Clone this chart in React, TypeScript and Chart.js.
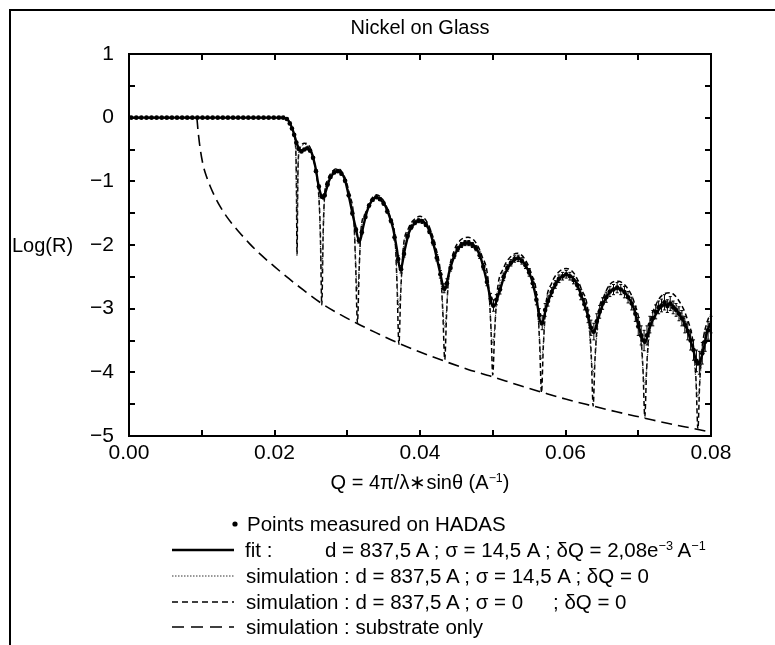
import React, { useEffect, useRef } from "react";
import { Chart, registerables } from "chart.js";

Chart.register(...registerables);

const FONT = "'Liberation Sans', Arial, Helvetica, sans-serif";

// ---- Measured points (HADAS) ----
const plateauQ = [
  0.0003, 0.001, 0.0017, 0.0024, 0.0031, 0.0038, 0.0045, 0.0052, 0.0059, 0.0066,
  0.0073, 0.008, 0.0087, 0.0094, 0.0101, 0.0108, 0.0115, 0.0122, 0.0129, 0.0136,
  0.0143, 0.015, 0.0157, 0.0164, 0.0171, 0.0178, 0.0185, 0.0192, 0.0199, 0.0206,
  0.0212,
];
const plateauLogR = [
  0, 0, 0, 0, 0, 0, 0, 0, 0, 0,
  0, 0, 0, 0, 0, 0, 0, 0, 0, 0,
  0, 0, 0, 0, 0, 0, 0, 0, 0, 0,
  0,
];
const measQ = [
  0.0217, 0.0221, 0.0224, 0.0227, 0.023, 0.0233, 0.0237, 0.0241, 0.0245, 0.0249,
  0.0253, 0.0257, 0.0261, 0.0265, 0.0269, 0.0273, 0.0277, 0.0282, 0.0287, 0.0292,
  0.0297, 0.0302, 0.0307, 0.0312, 0.0316, 0.032, 0.0325, 0.033, 0.0335, 0.034,
  0.0345, 0.035, 0.0355, 0.036, 0.0365, 0.037, 0.0374, 0.0378, 0.0383, 0.0388,
  0.0393, 0.0398, 0.0403, 0.0408, 0.0413, 0.0418, 0.0423, 0.0428, 0.0433, 0.0437,
  0.0442, 0.0447, 0.0452, 0.0457, 0.0462, 0.0467, 0.0472, 0.0477, 0.0482, 0.0487,
  0.0492, 0.0497, 0.0501, 0.0505, 0.051, 0.0515, 0.052, 0.0525, 0.053, 0.0535,
  0.054, 0.0545, 0.055, 0.0555, 0.056, 0.0564, 0.0568, 0.0572, 0.0576, 0.0581,
  0.0586, 0.0591, 0.0596, 0.0601, 0.0606, 0.0611, 0.0616, 0.0621, 0.0626, 0.0631,
  0.0635, 0.0639, 0.0643, 0.0647, 0.0651, 0.0656, 0.0661, 0.0666, 0.0671, 0.0676,
  0.0681, 0.0686, 0.0691, 0.0696, 0.07, 0.0704, 0.0708, 0.0712, 0.0716, 0.072,
  0.0724, 0.0728, 0.0732, 0.0736, 0.074, 0.0744, 0.0748, 0.0752, 0.0756, 0.076,
  0.0764, 0.0768, 0.0772, 0.0776, 0.078, 0.0784, 0.0788, 0.0792, 0.0796, 0.08,
];
const measLogR = [
  -0.02, -0.09, -0.17, -0.27, -0.39, -0.49, -0.53, -0.5, -0.48, -0.52,
  -0.63, -0.84, -1.08, -1.24, -1.22, -1.05, -0.93, -0.86, -0.84, -0.88,
  -0.99, -1.22, -1.5, -1.76, -1.93, -1.8, -1.56, -1.38, -1.29, -1.25,
  -1.28, -1.35, -1.47, -1.62, -1.88, -2.22, -2.38, -2.14, -1.86, -1.72,
  -1.65, -1.62, -1.63, -1.68, -1.79, -1.96, -2.2, -2.46, -2.68, -2.6,
  -2.36, -2.17, -2.06, -2.0, -1.97, -1.97, -2.0, -2.05, -2.16, -2.34,
  -2.58, -2.84, -2.95, -2.86, -2.7, -2.5, -2.36, -2.28, -2.22, -2.21,
  -2.25, -2.32, -2.43, -2.6, -2.86, -3.1, -3.22, -3.02, -2.88, -2.74,
  -2.62, -2.53, -2.49, -2.46, -2.49, -2.55, -2.63, -2.78, -2.93, -3.12,
  -3.3, -3.36, -3.2, -3.05, -2.92, -2.82, -2.73, -2.7, -2.67, -2.7,
  -2.74, -2.82, -2.92, -3.08, -3.28, -3.42, -3.5, -3.42, -3.25, -3.15,
  -3.05, -2.98, -2.95, -2.9, -2.96, -2.92, -2.98, -3.02, -3.08, -3.15,
  -3.25, -3.35, -3.5, -3.65, -3.82, -3.85, -3.7, -3.52, -3.34, -3.25,
];
const measErr = [
  0.01, 0.01, 0.01, 0.01, 0.01, 0.01, 0.01, 0.01, 0.01, 0.01,
  0.02, 0.02, 0.02, 0.02, 0.02, 0.02, 0.02, 0.02, 0.02, 0.02,
  0.02, 0.02, 0.03, 0.03, 0.04, 0.03, 0.02, 0.02, 0.02, 0.02,
  0.02, 0.02, 0.03, 0.03, 0.04, 0.05, 0.06, 0.05, 0.03, 0.03,
  0.03, 0.03, 0.03, 0.03, 0.03, 0.04, 0.05, 0.06, 0.07, 0.07,
  0.05, 0.04, 0.04, 0.04, 0.04, 0.04, 0.04, 0.04, 0.05, 0.05,
  0.06, 0.08, 0.09, 0.08, 0.07, 0.06, 0.05, 0.05, 0.05, 0.05,
  0.05, 0.05, 0.06, 0.07, 0.08, 0.1, 0.11, 0.1, 0.08, 0.07,
  0.06, 0.06, 0.06, 0.06, 0.06, 0.06, 0.07, 0.08, 0.09, 0.1,
  0.12, 0.13, 0.12, 0.1, 0.09, 0.08, 0.08, 0.08, 0.08, 0.08,
  0.09, 0.09, 0.1, 0.12, 0.14, 0.15, 0.16, 0.15, 0.13, 0.12,
  0.11, 0.1, 0.1, 0.12, 0.1, 0.11, 0.1, 0.1, 0.11, 0.12,
  0.13, 0.14, 0.15, 0.16, 0.17, 0.18, 0.17, 0.15, 0.14, 0.13,
];

// ---- Fit: d = 837.5 A, sigma = 14.5 A, dQ = 2.08e-3 ----
const fitQ = [
  0, 0.02, 0.0212, 0.0217, 0.0221, 0.0224, 0.0227, 0.023, 0.0233, 0.0236,
  0.024, 0.0244, 0.0248, 0.0251, 0.0254, 0.0257, 0.026, 0.0263, 0.0267, 0.0271,
  0.0275, 0.028, 0.0286, 0.0291, 0.0296, 0.0301, 0.0306, 0.0311, 0.0317, 0.0322,
  0.0327, 0.0333, 0.034, 0.0346, 0.0352, 0.0357, 0.0363, 0.0368, 0.0373, 0.0379,
  0.0385, 0.0392, 0.04, 0.0408, 0.0415, 0.0421, 0.0427, 0.0434, 0.044, 0.0447,
  0.0455, 0.0466, 0.0476, 0.0484, 0.0492, 0.0501, 0.0509, 0.0517, 0.0526, 0.0535,
  0.0545, 0.0553, 0.056, 0.0567, 0.0574, 0.0582, 0.0591, 0.0602, 0.0613, 0.0622,
  0.063, 0.0638, 0.0645, 0.0652, 0.0661, 0.0672, 0.0684, 0.0694, 0.0701, 0.0709,
  0.0716, 0.0725, 0.0734, 0.0744, 0.0756, 0.0767, 0.0775, 0.0782, 0.0789, 0.0795,
  0.08,
];
const fitLogR = [
  0, 0, 0, -0.02, -0.08, -0.16, -0.26, -0.38, -0.47, -0.52,
  -0.51, -0.49, -0.5, -0.55, -0.67, -0.82, -1.03, -1.18, -1.27, -1.14,
  -0.99, -0.89, -0.84, -0.86, -0.95, -1.17, -1.44, -1.7, -1.95, -1.71,
  -1.48, -1.32, -1.25, -1.29, -1.38, -1.52, -1.74, -2.05, -2.4, -2.08,
  -1.8, -1.67, -1.61, -1.67, -1.84, -2.1, -2.4, -2.71, -2.43, -2.18,
  -2.02, -1.97, -2.03, -2.22, -2.58, -2.97, -2.74, -2.45, -2.27, -2.21,
  -2.32, -2.52, -2.85, -3.25, -2.96, -2.72, -2.54, -2.47, -2.56, -2.8,
  -3.08, -3.38, -3.15, -2.91, -2.74, -2.68, -2.78, -3.0, -3.3, -3.54,
  -3.28, -3.07, -2.95, -2.93, -3.08, -3.32, -3.62, -3.88, -3.68, -3.35,
  -3.22,
];

// ---- simulation : d = 837.5 A ; sigma = 14.5 A ; dQ = 0  (dotted) ----
const roughQ = [
  0, 0.0212, 0.0217, 0.0221, 0.0224, 0.0227, 0.0229, 0.0231, 0.0233, 0.0236,
  0.0241, 0.0245, 0.0249, 0.0253, 0.0257, 0.0261, 0.0265, 0.0269, 0.0273, 0.0279,
  0.0286, 0.0292, 0.0298, 0.0303, 0.0309, 0.0314, 0.0319, 0.0325, 0.0332, 0.034,
  0.0347, 0.0353, 0.0359, 0.0366, 0.0371, 0.0377, 0.0384, 0.0392, 0.04, 0.0408,
  0.0415, 0.0422, 0.0429, 0.0434, 0.0439, 0.0447, 0.0455, 0.0466, 0.0476, 0.0485,
  0.0494, 0.05, 0.0506, 0.0515, 0.0525, 0.0534, 0.0544, 0.0553, 0.0561, 0.0567,
  0.0573, 0.0581, 0.0591, 0.0601, 0.0612, 0.0622, 0.0631, 0.0638, 0.0645, 0.0653,
  0.0661, 0.0672, 0.0684, 0.0695, 0.0703, 0.0709, 0.0715, 0.0724, 0.0734, 0.0744,
  0.0756, 0.0767, 0.0776, 0.0782, 0.0788, 0.0795, 0.08,
];
const roughLogR = [
  0, 0, -0.02, -0.08, -0.16, -0.28, -0.45, -1.6, -0.58, -0.46,
  -0.42, -0.43, -0.49, -0.64, -0.86, -1.25, -2.4, -1.22, -1.0, -0.87,
  -0.83, -0.86, -0.99, -1.22, -1.62, -2.7, -1.78, -1.52, -1.32, -1.24,
  -1.28, -1.39, -1.58, -1.98, -3.0, -2.08, -1.77, -1.63, -1.59, -1.65,
  -1.82, -2.1, -2.6, -3.3, -2.6, -2.14, -1.99, -1.95, -2.02, -2.24,
  -2.66, -3.55, -2.82, -2.44, -2.26, -2.21, -2.3, -2.53, -2.93, -3.8,
  -3.02, -2.69, -2.51, -2.46, -2.55, -2.8, -3.15, -4.0, -3.2, -2.9,
  -2.72, -2.67, -2.77, -3.03, -3.45, -4.2, -3.45, -3.05, -2.9, -2.88,
  -3.0, -3.27, -3.7, -4.4, -3.7, -3.3, -3.18,
];

// ---- simulation : d = 837.5 A ; sigma = 0 ; dQ = 0  (short dashes) ----
const sharpQ = [
  0, 0.0212, 0.0217, 0.0221, 0.0224, 0.0227, 0.0229, 0.023, 0.0231, 0.0232,
  0.0233, 0.0236, 0.0241, 0.0245, 0.0249, 0.0253, 0.0257, 0.0261, 0.0263, 0.0265,
  0.0267, 0.0269, 0.0273, 0.0279, 0.0286, 0.0292, 0.0298, 0.0303, 0.0309, 0.03115,
  0.0314, 0.03165, 0.0319, 0.0325, 0.0332, 0.034, 0.0347, 0.0353, 0.0359, 0.0366,
  0.03685, 0.0371, 0.03735, 0.0377, 0.0384, 0.0392, 0.04, 0.0408, 0.0415, 0.0422,
  0.0429, 0.04315, 0.0434, 0.04365, 0.0439, 0.0447, 0.0455, 0.0466, 0.0476, 0.0485,
  0.0494, 0.04975, 0.05, 0.05025, 0.0506, 0.0515, 0.0525, 0.0534, 0.0544, 0.0553,
  0.0561, 0.05645, 0.0567, 0.05695, 0.0573, 0.0581, 0.0591, 0.0601, 0.0612, 0.0622,
  0.0631, 0.06355, 0.0638, 0.06405, 0.0645, 0.0653, 0.0661, 0.0672, 0.0684, 0.0695,
  0.0703, 0.07065, 0.0709, 0.07115, 0.0715, 0.0724, 0.0734, 0.0744, 0.0756, 0.0767,
  0.0776, 0.07795, 0.0782, 0.07845, 0.0788, 0.0795, 0.08,
];
const sharpLogR = [
  0, 0, -0.02, -0.08, -0.16, -0.28, -0.45, -0.9, -2.16, -1.0,
  -0.6, -0.45, -0.4, -0.41, -0.47, -0.62, -0.85, -1.25, -1.8, -2.94,
  -1.75, -1.2, -0.98, -0.85, -0.8, -0.84, -0.98, -1.2, -1.6, -2.3,
  -3.22, -2.35, -1.75, -1.5, -1.3, -1.21, -1.26, -1.37, -1.56, -1.95,
  -2.65, -3.56, -2.75, -2.05, -1.74, -1.6, -1.55, -1.61, -1.78, -2.05,
  -2.55, -3.1, -3.8, -3.1, -2.55, -2.09, -1.93, -1.88, -1.95, -2.17,
  -2.6, -3.3, -4.04, -3.4, -2.75, -2.36, -2.18, -2.13, -2.22, -2.45,
  -2.85, -3.55, -4.32, -3.6, -2.95, -2.6, -2.42, -2.37, -2.45, -2.7,
  -3.05, -3.75, -4.53, -3.8, -3.1, -2.8, -2.62, -2.57, -2.66, -2.92,
  -3.35, -3.95, -4.7, -3.95, -3.35, -2.95, -2.78, -2.75, -2.88, -3.15,
  -3.6, -4.15, -4.89, -4.15, -3.6, -3.2, -3.08,
];

// ---- Substrate only (long dashes) ----
const subQ = [
  0, 0.0093, 0.0095, 0.0098, 0.0102, 0.0107, 0.0112, 0.0118, 0.0125, 0.0134,
  0.0142, 0.015, 0.0165, 0.018, 0.02, 0.022, 0.024, 0.0265, 0.029, 0.0313,
  0.034, 0.0372, 0.04, 0.0435, 0.0465, 0.05, 0.0535, 0.0567, 0.06, 0.0638,
  0.067, 0.0709, 0.074, 0.0779, 0.08,
];
const subLogR = [
  0, 0, -0.22, -0.5, -0.75, -0.94, -1.09, -1.24, -1.39, -1.55,
  -1.67, -1.78, -1.97, -2.14, -2.34, -2.53, -2.71, -2.92, -3.09, -3.23,
  -3.38, -3.55, -3.68, -3.83, -3.95, -4.07, -4.2, -4.31, -4.42, -4.53,
  -4.62, -4.72, -4.8, -4.89, -4.94,
];

const X_MIN = 0;
const X_MAX = 0.08;
const X_STEP = 0.01;
const Y_MIN = -5;
const Y_MAX = 1;
const Y_STEP = 0.5;

const toXY = (xs: number[], ys: number[]) => xs.map((x, i) => ({ x, y: ys[i] }));

const fmtY = (v: number) => (v < 0 ? "\u2212" + Math.abs(v) : String(v));

export default function App() {
  const ref = useRef<HTMLCanvasElement | null>(null);

  useEffect(() => {
    const canvas = ref.current;
    if (!canvas) return;

    const allQ = plateauQ.concat(measQ);
    const allR = plateauLogR.concat(measLogR);
    const allE = plateauLogR.map(() => 0).concat(measErr);

    const framePlugin = {
      id: "frameTicks",
      afterDatasetsDraw(chart: any) {
        const { ctx, scales } = chart;
        const xs = scales.x;
        const ys = scales.y;
        ctx.save();
        ctx.strokeStyle = "#000";
        ctx.lineWidth = 1;
        ctx.beginPath();
        for (let i = 0; i < allQ.length; i++) {
          const e = allE[i];
          if (!e) continue;
          const px = xs.getPixelForValue(allQ[i]);
          const p1 = ys.getPixelForValue(allR[i] + e);
          const p2 = ys.getPixelForValue(allR[i] - e);
          ctx.moveTo(px, p1);
          ctx.lineTo(px, p2);
          ctx.moveTo(px - 1.5, p1);
          ctx.lineTo(px + 1.5, p1);
          ctx.moveTo(px - 1.5, p2);
          ctx.lineTo(px + 1.5, p2);
        }
        ctx.stroke();
        ctx.restore();
      },
      afterDraw(chart: any) {
        const { ctx, chartArea, scales } = chart;
        const { left, right, top, bottom } = chartArea;
        ctx.save();
        ctx.strokeStyle = "#000";
        ctx.lineWidth = 2;
        ctx.strokeRect(left, top, right - left, bottom - top);
        const tl = 6;
        ctx.beginPath();
        scales.x.ticks.forEach((t: any) => {
          const px = Math.round(scales.x.getPixelForValue(t.value));
          ctx.moveTo(px, bottom);
          ctx.lineTo(px, bottom - tl);
          ctx.moveTo(px, top);
          ctx.lineTo(px, top + tl);
        });
        scales.y.ticks.forEach((t: any) => {
          const py = Math.round(scales.y.getPixelForValue(t.value));
          ctx.moveTo(left, py);
          ctx.lineTo(left + tl, py);
          ctx.moveTo(right, py);
          ctx.lineTo(right - tl, py);
        });
        ctx.stroke();
        ctx.restore();
      },
    };

    const chart = new Chart(canvas, {
      type: "scatter",
      data: {
        datasets: [
          {
            label: "Points measured on HADAS",
            data: toXY(allQ, allR),
            showLine: false,
            pointRadius: 2.3,
            pointBackgroundColor: "#000",
            pointBorderColor: "#000",
            pointBorderWidth: 0,
            order: 0,
          },
          {
            label: "fit",
            data: toXY(fitQ, fitLogR),
            showLine: true,
            borderColor: "#000",
            borderWidth: 2.4,
            pointRadius: 0,
            cubicInterpolationMode: "monotone",
            order: 1,
          },
          {
            label: "simulation sigma 14.5 dQ 0",
            data: toXY(roughQ, roughLogR),
            showLine: true,
            borderColor: "#333",
            borderWidth: 1,
            borderDash: [1.5, 1.5],
            pointRadius: 0,
            cubicInterpolationMode: "monotone",
            order: 2,
          },
          {
            label: "simulation sigma 0 dQ 0",
            data: toXY(sharpQ, sharpLogR),
            showLine: true,
            borderColor: "#000",
            borderWidth: 1.5,
            borderDash: [5, 3],
            pointRadius: 0,
            cubicInterpolationMode: "monotone",
            order: 3,
          },
          {
            label: "substrate only",
            data: toXY(subQ, subLogR),
            showLine: true,
            borderColor: "#000",
            borderWidth: 1.6,
            borderDash: [11, 6],
            pointRadius: 0,
            cubicInterpolationMode: "monotone",
            order: 4,
          },
        ],
      } as any,
      options: {
        animation: false,
        responsive: false,
        maintainAspectRatio: false,
        devicePixelRatio: 1,
        layout: { padding: { left: 0, top: 54, right: 64, bottom: 179 } },
        plugins: {
          legend: { display: false },
          tooltip: { enabled: false },
          title: { display: false },
        },
        scales: {
          x: {
            type: "linear",
            min: X_MIN,
            max: X_MAX,
            grid: { display: false, drawTicks: false },
            border: { display: false },
            ticks: {
              stepSize: X_STEP,
              autoSkip: false,
              maxRotation: 0,
              padding: 5,
              color: "#000",
              font: { family: FONT, size: 21 },
              callback: (v: any) =>
                Math.round(Number(v) * 100) % 2 === 0 ? Number(v).toFixed(2) : "",
            },
            afterFit: (s: any) => {
              s.height = 30;
            },
          },
          y: {
            type: "linear",
            min: Y_MIN,
            max: Y_MAX,
            grid: { display: false, drawTicks: false },
            border: { display: false },
            ticks: {
              stepSize: Y_STEP,
              autoSkip: false,
              padding: 15,
              color: "#000",
              font: { family: FONT, size: 21 },
              callback: (v: any) => {
                const n = Number(v);
                return Math.abs(n - Math.round(n)) < 1e-9 ? fmtY(Math.round(n)) : "";
              },
            },
            afterFit: (s: any) => {
              s.width = 129;
            },
          },
        },
      } as any,
      plugins: [framePlugin],
    });

    return () => chart.destroy();
  }, []);

  const textBase: React.CSSProperties = {
    position: "absolute",
    whiteSpace: "pre",
    fontFamily: FONT,
    fontSize: 20.5,
    lineHeight: "24px",
    color: "#000",
  };
  const sup: React.CSSProperties = { fontSize: "0.62em", verticalAlign: "0.55em", lineHeight: 0 };

  const rowY = [524, 550, 576, 602, 627];

  const sample = (dash: string | null, width: number, y: number, color = "#000") => (
    <svg style={{ position: "absolute", left: 172, top: y - 4 }} width={62} height={8}>
      <line
        x1={0}
        y1={4}
        x2={62}
        y2={4}
        stroke={color}
        strokeWidth={width}
        strokeDasharray={dash || undefined}
      />
    </svg>
  );

  return (
    <div
      style={{
        position: "fixed",
        left: 0,
        top: 0,
        width: 775,
        height: 645,
        background: "#fff",
        overflow: "hidden",
      }}
    >
      <div
        style={{
          position: "absolute",
          left: 9,
          top: 9,
          width: 800,
          height: 700,
          borderTop: "2px solid #000",
          borderLeft: "2px solid #000",
        }}
      />
      <canvas
        ref={ref}
        width={775}
        height={645}
        style={{ position: "absolute", left: 0, top: 0, width: 775, height: 645 }}
      />
      <div style={{ ...textBase, fontSize: 20, left: 0, width: 840, textAlign: "center", top: 15 }}>
        Nickel on Glass
      </div>
      <div style={{ ...textBase, fontSize: 20, left: 12, top: 233 }}>Log(R)</div>
      <div style={{ ...textBase, fontSize: 20, left: 0, width: 840, textAlign: "center", top: 470 }}>
        Q = 4π/λ∗sinθ (A<span style={sup}>−1</span>)
      </div>

      {/* legend */}
      <svg style={{ position: "absolute", left: 231, top: rowY[0] - 4 }} width={8} height={8}>
        <circle cx={4} cy={4} r={2.6} fill="#000" />
      </svg>
      <div style={{ ...textBase, left: 247, top: rowY[0] - 12 }}>Points measured on HADAS</div>

      {sample(null, 2.6, rowY[1])}
      <div style={{ ...textBase, left: 245, top: rowY[1] - 12 }}>fit :</div>
      <div style={{ ...textBase, left: 325, top: rowY[1] - 12 }}>
        d = 837,5 A ; σ = 14,5 A ; δQ = 2,08e<span style={sup}>−3</span> A<span style={sup}>−1</span>
      </div>

      {sample("1.5 1.5", 1, rowY[2], "#333")}
      <div style={{ ...textBase, left: 246, top: rowY[2] - 12 }}>
        simulation : d = 837,5 A ; σ = 14,5 A ; δQ = 0
      </div>

      {sample("6 4", 1.5, rowY[3])}
      <div style={{ ...textBase, left: 246, top: rowY[3] - 12 }}>simulation : d = 837,5 A ; σ = 0</div>
      <div style={{ ...textBase, left: 553, top: rowY[3] - 12 }}>; δQ = 0</div>

      {sample("12 7", 1.5, rowY[4])}
      <div style={{ ...textBase, left: 246, top: rowY[4] - 12 }}>simulation : substrate only</div>
    </div>
  );
}
